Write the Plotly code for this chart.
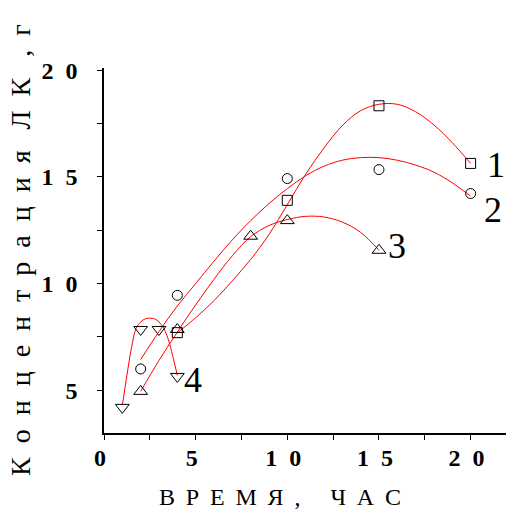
import plotly.graph_objects as go

# ---- data ----
# measured points
x1 = [4, 10, 15, 20]
y1 = [7.7, 13.9, 18.33, 15.63]
x2 = [2, 4, 10, 15, 20]
y2 = [6.0, 9.45, 14.92, 15.34, 14.22]
x3 = [2, 4, 8, 10, 15]
y3 = [4.95, 7.85, 12.22, 12.95, 11.56]
x4 = [1, 2, 3, 4]
y4 = [4.2, 7.85, 7.85, 5.65]

# fitted (red) curves
fx1 = [4, 5, 6, 7, 8, 9, 10, 11, 12, 13, 14, 15, 16, 17, 18, 19, 20]
fy1 = [7.69, 8.4, 9.2, 10.13, 11.13, 12.3, 13.7, 15.12, 16.35, 17.4, 18.1, 18.4, 18.4, 18.05, 17.43, 16.6, 15.63]
fx2 = [2, 3, 4, 5, 6, 7, 8, 9, 10, 11, 12, 13, 14, 15, 16, 17, 18, 19, 20]
fy2 = [6.44, 7.75, 8.95, 10.0, 11.05, 12.05, 12.95, 13.75, 14.45, 15.05, 15.5, 15.78, 15.9, 15.9, 15.78, 15.55, 15.22, 14.72, 14.1]
fx3 = [2, 3, 4, 5, 6, 7, 8, 9, 10, 11, 12, 13, 14, 15]
fy3 = [4.95, 6.4, 7.73, 9.0, 10.2, 11.3, 12.2, 12.72, 13.0, 13.15, 13.12, 12.88, 12.4, 11.56]
fx4 = [1, 1.25, 1.5, 1.75, 2, 2.25, 2.5, 2.75, 3, 3.25, 3.5, 3.75, 4]
fy4 = [4.3, 5.7, 7.0, 7.9, 8.2, 8.35, 8.38, 8.35, 8.2, 7.92, 7.4, 6.6, 5.7]

labels = ["1", "2", "3", "4"]
label_x = [21.4, 21.2, 15.97, 4.87]
label_y = [15.55, 13.43, 11.76, 5.47]
symbols = ["square-open", "circle-open", "triangle-up-open", "triangle-down-open"]
msizes = [10, 10, 12, 12]

EN = "\u2002"
NB = "\u00a0"
TH = "\u2009"
xticks = [0, 5, 10, 15, 20]
xticktext = ["0", "5", "1" + EN + "0", "1" + EN + "5", "2" + EN + "0"]
yticks = [5, 10, 15, 20]
yticktext = ["5", "1" + EN + "0", "1" + EN + "5", "2" + EN + "0"]

ytitle = EN.join(list("Концентрация")) + EN + NB + EN.join(["Л", "К"]) + EN + NB + "," + EN + "г"
XS = NB + TH
xtitle = XS.join(list("ВРЕМЯ")) + XS + "," + EN + EN + NB + XS.join(list("ЧАС"))

serif = "Liberation Serif"

fig = go.Figure()
pts = [(x1, y1), (x2, y2), (x3, y3), (x4, y4)]
fits = [(fx1, fy1), (fx2, fy2), (fx3, fy3), (fx4, fy4)]
for i in range(4):
    fig.add_trace(go.Scatter(x=fits[i][0], y=fits[i][1], mode="lines",
                             line=dict(color="#ff0000", width=1, shape="spline", smoothing=1),
                             showlegend=False, hoverinfo="skip"))
for i in range(4):
    fig.add_trace(go.Scatter(x=pts[i][0], y=pts[i][1], mode="markers", showlegend=False,
                             marker=dict(symbol=symbols[i], size=msizes[i], color="black",
                                         line=dict(color="black", width=1))))
    fig.add_annotation(x=label_x[i], y=label_y[i], text=labels[i], showarrow=False,
                       xanchor="center", yanchor="middle",
                       font=dict(family=serif, size=36, color="black"))

# axis titles
fig.add_annotation(xref="paper", yref="paper", x=(280 - 104) / 402, y=(433 - 497) / 365,
                   text=xtitle, showarrow=False, xanchor="center", yanchor="middle",
                   font=dict(family=serif, size=24, color="black"))
fig.add_annotation(xref="paper", yref="paper", x=(21 - 104) / 402, y=(433 - 250) / 365,
                   text=ytitle, textangle=-90, showarrow=False, xanchor="center", yanchor="middle",
                   font=dict(family=serif, size=28, color="black"))

fig.update_layout(
    width=506, height=515,
    margin=dict(l=104, r=0, t=68, b=82),
    paper_bgcolor="white", plot_bgcolor="white",
    font=dict(family=serif, color="black"),
)
fig.update_xaxes(
    range=[0, 21.93], showgrid=False, zeroline=False,
    showline=True, linecolor="black", linewidth=1.5,
    ticks="outside", ticklen=5, tickwidth=1.2, tickcolor="black",
    tickvals=xticks, ticktext=xticktext, ticklabelstandoff=-3, ticklabelshift=-4,
    tickfont=dict(family=serif, size=24, color="black", weight="bold"),
    minor=dict(tickvals=[2.5, 7.5, 12.5, 17.5], ticks="outside", ticklen=5,
               tickcolor="black", tickwidth=1.2),
)
fig.update_yaxes(
    range=[3, 20.1], showgrid=False, zeroline=False,
    showline=True, linecolor="black", linewidth=1.5,
    ticks="outside", ticklen=5, tickwidth=1.2, tickcolor="black",
    tickvals=yticks, ticktext=yticktext, ticklabelstandoff=15,
    tickfont=dict(family=serif, size=24, color="black", weight="bold"),
    minor=dict(tickvals=[7.5, 12.5, 17.5], ticks="outside", ticklen=5,
               tickcolor="black", tickwidth=1.2),
)

fig.write_html("out.html")
